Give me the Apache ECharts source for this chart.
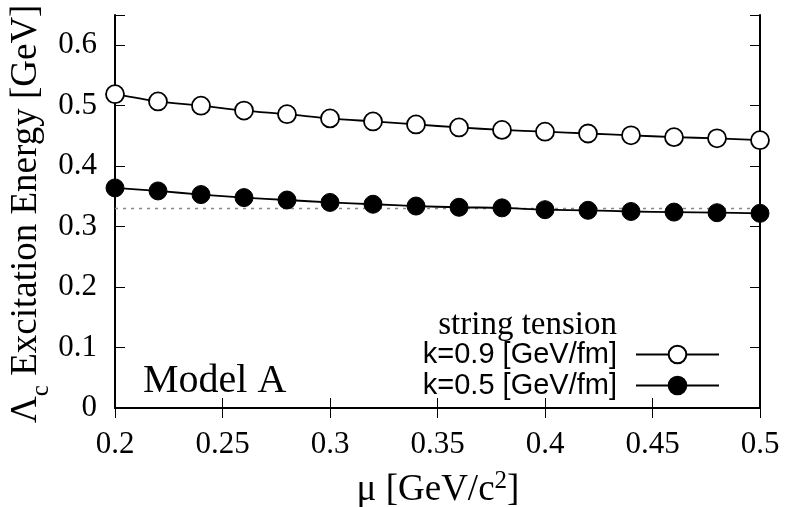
<!DOCTYPE html>
<html>
<head>
<meta charset="utf-8">
<script src="https://cdn.jsdelivr.net/npm/echarts@6/dist/echarts.min.js"></script>
<style>
html,body{margin:0;padding:0;background:#fff;}
#chart{width:787px;height:507px;}
</style>
</head>
<body>
<div id="chart"></div>
<script>
// ---- data ----
const mu = [0.20,0.22,0.24,0.26,0.28,0.30,0.32,0.34,0.36,0.38,0.40,0.42,0.44,0.46,0.48,0.50];
const k09 = [0.519,0.507,0.500,0.492,0.486,0.479,0.474,0.469,0.464,0.460,0.457,0.454,0.451,0.448,0.446,0.443];
const k05 = [0.364,0.359,0.353,0.348,0.344,0.340,0.337,0.334,0.332,0.331,0.328,0.327,0.325,0.324,0.323,0.322];
const refLineX = [0.2, 0.5];
const refLineY = 0.33;
const xTicks = [0.2,0.25,0.3,0.35,0.4,0.45,0.5];
const yTicks = [0,0.1,0.2,0.3,0.4,0.5,0.6];
const seriesNames = ['k=0.9 [GeV/fm]','k=0.5 [GeV/fm]'];

const serif = 'Liberation Serif';
const sans = 'Liberation Sans';

const chart = echarts.init(document.getElementById('chart'), null, {renderer:'canvas'});

function pairs(xs, ys){ return xs.map((x,i)=>[x,ys[i]]); }

function frameAxis(extra){
  return Object.assign({
    axisLine:{show:true, lineStyle:{color:'#000', width:2}},
    axisTick:{show:true, inside:true, length:10, lineStyle:{color:'#000', width:1}},
    splitLine:{show:false}
  }, extra);
}

const option = {
  animation:false,
  backgroundColor:'#fff',
  grid:{left:115, right:27, top:15, bottom:99, containLabel:false},
  xAxis:[
    frameAxis({type:'value', min:0.2, max:0.5, interval:0.05, position:'bottom',
      axisLabel:{color:'#000', fontFamily:serif, fontSize:31, margin:21,
        formatter:v=>String(+(+v).toFixed(2))}}),
    frameAxis({type:'value', min:0.2, max:0.5, interval:0.05, position:'top',
      axisLabel:{show:false}})
  ],
  yAxis:[
    frameAxis({type:'value', min:0, max:0.65, interval:0.1, position:'left',
      axisLabel:{color:'#000', fontFamily:serif, fontSize:31, margin:18,
        formatter:v=> (yTicks.some(t=>Math.abs(t-v)<1e-6) ? String(+(+v).toFixed(1)) : '')}}),
    frameAxis({type:'value', min:0, max:0.65, interval:0.1, position:'right',
      axisLabel:{show:false}})
  ],
  legend:{
    data:seriesNames,
    orient:'vertical',
    align:'right',
    right:62,
    top:335,
    itemWidth:83,
    itemHeight:22,
    itemGap:2,
    textStyle:{color:'#000', fontFamily:sans, fontSize:29, padding:[0,14,0,0]}
  },
  series:[
    {
      name:'ref', type:'line', xAxisIndex:0, yAxisIndex:0,
      data:refLineX.map(x=>[x,refLineY]), symbol:'none', silent:true,
      lineStyle:{color:'#888', width:1.5, type:[3,5]}, z:1
    },
    {
      name:seriesNames[0], type:'line', data:pairs(mu,k09), smooth:0.3,
      symbol:'circle', symbolSize:18,
      itemStyle:{color:'#fff', borderColor:'#000', borderWidth:1.8},
      lineStyle:{color:'#000', width:1.8}, z:3
    },
    {
      name:seriesNames[1], type:'line', data:pairs(mu,k05), smooth:0.3,
      symbol:'circle', symbolSize:18,
      itemStyle:{color:'#000', borderColor:'#000', borderWidth:1},
      lineStyle:{color:'#000', width:1.8}, z:3
    }
  ],
  graphic:[
    {type:'text', left:143, top:361, z:10,
      style:{text:'Model A', fontFamily:serif, fontSize:40, fill:'#000'}},
    {type:'text', x:617, y:325, z:10,
      style:{text:'string tension', fontFamily:serif, fontSize:33, fill:'#000', align:'right', verticalAlign:'middle'}},
    {type:'text', x:25, y:423, rotation:Math.PI/2, z:10,
      style:{text:'{a|Λ}{s|c}{a| Excitation Energy [GeV]}', align:'left', verticalAlign:'middle',
        rich:{
          a:{fontFamily:serif, fontSize:37, fill:'#000', verticalAlign:'bottom', lineHeight:40},
          s:{fontFamily:serif, fontSize:25, fill:'#000', verticalAlign:'bottom', lineHeight:40, padding:[0,0,-9,0]}
        }}},
    {type:'text', x:438, y:489, z:10,
      style:{text:'{a|μ [GeV/c}{p|2}{a|]}', align:'center', verticalAlign:'middle',
        rich:{
          a:{fontFamily:serif, fontSize:37, fill:'#000', verticalAlign:'bottom', lineHeight:40},
          p:{fontFamily:serif, fontSize:25, fill:'#000', verticalAlign:'top', lineHeight:40, padding:[0,0,13,0]}
        }}}
  ]
};
chart.setOption(option);
</script>
</body>
</html>
